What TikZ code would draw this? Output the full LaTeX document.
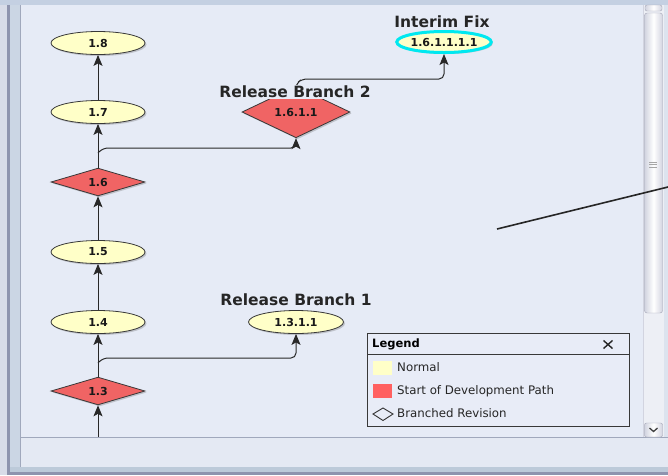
\documentclass[tikz,border=0pt]{standalone}
\usepackage{fontspec}
\setmainfont{DejaVu Sans}
\usetikzlibrary{shapes.geometric,arrows.meta,shadows}
\definecolor{canvas}{HTML}{E6EBF6}
\definecolor{outerc}{HTML}{D8DCE8}
\definecolor{topstrip}{HTML}{C4D0E2}
\definecolor{framedark}{HTML}{8E94AE}
\definecolor{framelight}{HTML}{CBD6E4}
\definecolor{frameline}{HTML}{A0A8BC}
\definecolor{statusc}{HTML}{E4E9F3}
\definecolor{bottomstrip}{HTML}{BCCAD9}
\definecolor{rightstrip}{HTML}{DCE3EE}
\definecolor{trackc}{HTML}{EDEFF5}
\definecolor{thumbedge}{HTML}{A4A6B6}
\definecolor{thumbside}{HTML}{D2D4E0}
\definecolor{normalfill}{HTML}{FFFFC8}
\definecolor{devfill}{HTML}{F06464}
\definecolor{swatchred}{HTML}{FF6060}
\definecolor{legendfill}{HTML}{E8ECF7}
\definecolor{nodeborder}{HTML}{383838}
\definecolor{linecol}{HTML}{282828}
\definecolor{cyanring}{HTML}{00E8F0}
\begin{document}
\begin{tikzpicture}[x=1pt,y=-1pt,
  shadowed/.style={drop shadow={shadow xshift=1.5pt,shadow yshift=-1.5pt,opacity=.3,fill=black!60}},
  normal/.style={ellipse,draw=nodeborder,line width=0.8pt,fill=normalfill,minimum width=94pt,minimum height=23pt,inner sep=0pt,font=\bfseries\fontsize{11}{11}\selectfont,text=black!90,shadowed},
  devstart/.style={diamond,draw=nodeborder,line width=0.8pt,fill=devfill,minimum width=94pt,minimum height=25pt,inner sep=0pt,font=\bfseries\fontsize{11}{11}\selectfont,text=black!90,shadowed},
  interim/.style={ellipse,draw=cyanring,line width=3pt,fill=normalfill,minimum width=93pt,minimum height=21pt,inner sep=0pt,font=\bfseries\fontsize{11}{11}\selectfont,text=black!90,shadowed},
  arr/.style={draw=linecol,line width=1pt,-{Stealth[length=11pt,width=9pt,inset=2.5pt]}},
  branch/.style={arr,rounded corners=5pt},
  lbl/.style={font=\bfseries\fontsize{15.5}{16}\selectfont,text=black!85,inner sep=1pt},
  legtext/.style={anchor=west,font=\fontsize{11.8}{12}\selectfont,text=black!85,text height=8.5pt,text depth=2pt,inner sep=0pt}]
\useasboundingbox (0,0) rectangle (668,475);
% window frame
\fill[outerc] (0,0) rectangle (668,475);
\fill[topstrip] (0,0) rectangle (668,5);
\fill[framedark] (7,5) rectangle (10,475);
\fill[framelight] (10,5) rectangle (20,468);
\fill[frameline] (20,5) rectangle (21,468);
\fill[canvas] (21,5) rectangle (643,437);
\fill[statusc] (21,438) rectangle (668,467);
\fill[frameline] (20,437) rectangle (668,438);
\fill[bottomstrip] (10,467) rectangle (668,472);
\fill[framedark] (7,472) rectangle (668,475);
\fill[rightstrip] (664,5) rectangle (668,437);
% scrollbar
\fill[trackc] (643,5) rectangle (664,437);
\draw[thumbside,line width=0.8pt] (643.4,5) -- (643.4,437);
\draw[thumbedge,rounded corners=2pt,left color=thumbside,right color=thumbside,middle color=white] (645,5) rectangle (662,11);
\draw[thumbedge,rounded corners=2.5pt,left color=thumbside,right color=thumbside,middle color=white] (644.5,13) rectangle (662.5,313);
\foreach \yy in {162,164.5,167} \draw[gray!70,line width=0.5pt] (649,\yy) -- (657,\yy);
\draw[thumbedge,rounded corners=2pt,left color=thumbside,right color=thumbside,middle color=white] (644.5,423) rectangle (662.5,437);
\draw[black!75,line width=1.3pt] (649.5,428) -- (653.5,431.5) -- (657.5,428);
% nodes
\node[normal] (n18) at (98,43) {1.8};
\node[normal] (n17) at (98,112) {1.7};
\node[devstart] (n16) at (98,182) {1.6};
\node[normal] (n15) at (98,252) {1.5};
\node[normal] (n14) at (98,322) {1.4};
\node[devstart] (n13) at (98,391) {1.3};
\node[normal,minimum width=95pt] (n1311) at (296,322) {1.3.1.1};
\node[devstart,minimum width=108pt,minimum height=24pt] (n1611) at (296,112) {1.6.1.1};
\node[interim] (n16111) at (444,42) {1.6.1.1.1.1};
\coordinate (trunkin) at (98,437);
\coordinate (br1) at (98,363);
\coordinate (br2) at (98,153);
% connectors
\draw[arr] (trunkin) -- (n13.south);
\draw[arr] (n13.north) -- (n14.south);
\draw[arr] (n14.north) -- (n15.south);
\draw[arr] (n15.north) -- (n16.south);
\draw[arr] (n16.north) -- (n17.south);
\draw[arr] (n17.north) -- (n18.south);
\draw[branch] (br1) -- (103,358) -- (296,358) -- (n1311.south);
\draw[branch] (br2) -- (103,148) -- (296,148) -- (n1611.south);
\draw[branch] (n1611.north) -- (297,83) -- (302,79) -- (444,79) -- (n16111.south);
% labels
\node[lbl,fill=canvas] (lab2) at (295,91.5) {Release Branch 2};
\node[lbl] (lab1) at (296,300) {Release Branch 1};
\node[lbl] (lab3) at (442,21.5) {Interim Fix};
% legend
\draw[nodeborder,line width=1pt,fill=legendfill] (367,333) rectangle (629,426);
\draw[nodeborder,line width=0.8pt] (367,354) -- (629,354);
\node[anchor=west,font=\bfseries\fontsize{11.5}{12}\selectfont,inner sep=0pt] (legtitle) at (372,344) {Legend};
\draw[black!85,line width=1.4pt] (603.5,340.5) -- (612.5,348.5) (603.5,348.5) -- (612.5,340.5);
\fill[normalfill] (373,361) rectangle (392,375);
\fill[swatchred] (373,384) rectangle (392,398);
\draw[black!80,line width=0.9pt] (373,414) -- (383,408) -- (393,414) -- (383,420.5) -- cycle;
\node[legtext] (lg1) at (397,368) {Normal};
\node[legtext] (lg2) at (397,391) {Start of Development Path};
\node[legtext] (lg3) at (397,414) {Branched Revision};
% stray diagonal line
\coordinate (dl1) at (497,229);
\coordinate (dl2) at (668,187);
\draw[black!85,line width=1.6pt] (dl1) -- (dl2);
\end{tikzpicture}
\end{document}
